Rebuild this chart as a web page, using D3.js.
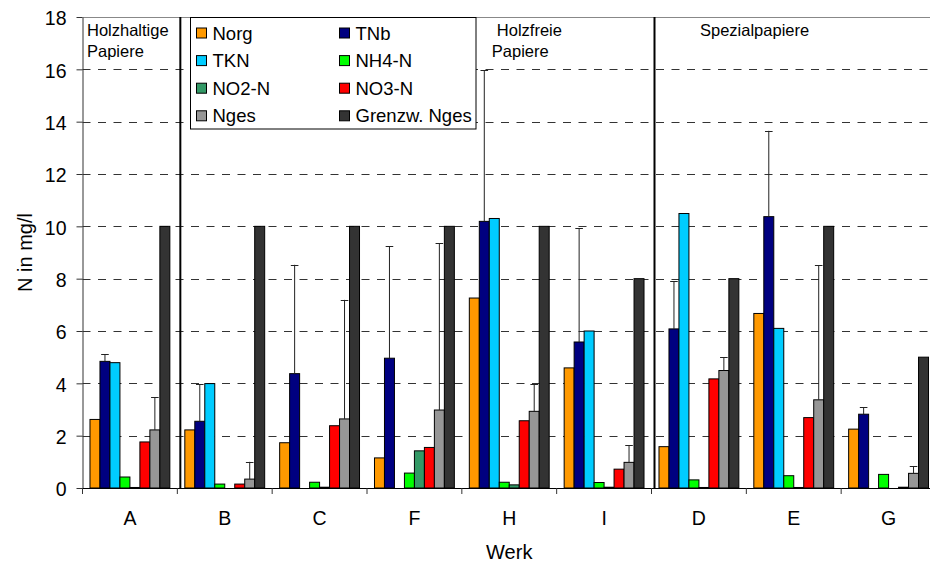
<!DOCTYPE html>
<html>
<head>
<meta charset="utf-8">
<script src="https://cdn.jsdelivr.net/npm/d3@7"></script>
<style>
  html, body { margin: 0; padding: 0; background: #fff; }
  svg { display: block; font-family: "Liberation Sans", Arial, sans-serif; }
</style>
</head>
<body>
<svg id="chart" width="930" height="562"></svg>
<script>
// Werke (plants) along the x axis
const categories = ["A", "B", "C", "F", "H", "I", "D", "E", "G"];

// Nitrogen fractions, one value per Werk, in mg/l
const seriesNames = ["Norg", "TNb", "TKN", "NH4-N", "NO2-N", "NO3-N", "Nges", "Grenzw. Nges"];
const norg   = [2.62, 2.22, 1.73, 1.15, 7.26, 4.59, 1.58, 6.67, 2.25];
const tnb    = [4.84, 2.55, 4.37, 4.96, 10.19, 5.58, 6.08, 10.37, 2.82];
const tkn    = [4.79, 3.99, 0, 0, 10.3, 6.0, 10.49, 6.1, 0];
const nh4    = [0.42, 0.15, 0.22, 0.57, 0.22, 0.21, 0.31, 0.47, 0.52];
const no2    = [0.02, 0, 0.03, 1.42, 0.12, 0.03, 0.02, 0.02, 0];
const no3    = [1.76, 0.15, 2.38, 1.55, 2.57, 0.72, 4.17, 2.69, 0.03];
const nges   = [2.22, 0.34, 2.64, 2.98, 2.93, 0.98, 4.49, 3.37, 0.56];
const grenzw = [10, 10, 10, 10, 10, 8, 8, 10, 5];

// Upper standard deviations for TNb and Nges
const tnbErr  = [0.28, 1.41, 4.16, 4.27, 5.78, 4.35, 1.83, 3.28, 0.27];
const ngesErr = [1.25, 0.66, 4.55, 6.38, 1.03, 0.66, 0.51, 5.15, 0.28];

const yTicks = [0, 2, 4, 6, 8, 10, 12, 14, 16, 18];

// Paper type groups: first Werk of each group and its heading lines
const groupStarts = ["A", "H", "D"];
const groupTitles = [["Holzhaltige", "Papiere"], ["Holzfreie", "Papiere"], ["Spezialpapiere"]];
const separatorsBefore = ["B", "D"];

const seriesValues = [norg, tnb, tkn, nh4, no2, no3, nges, grenzw];
const seriesErrors = { "TNb": tnbErr, "Nges": ngesErr };
const colors = ["#FF9900", "#000080", "#00CCFF", "#00FF00", "#339966", "#FF0000", "#969696", "#333333"];

const svg = d3.select("#chart");
const plotLeft = 82.5, plotRight = 936, plotTop = 17, plotBottom = 488;

const x0 = d3.scaleBand().domain(categories).range([plotLeft, plotRight]).paddingInner(0).paddingOuter(0);
const x1 = d3.scaleBand().domain(seriesNames).range([0, x0.bandwidth()]).paddingInner(0).paddingOuter(0.75);
const y = d3.scaleLinear().domain([0, 18]).range([plotBottom, plotTop]);
const color = d3.scaleOrdinal().domain(seriesNames).range(colors);

// dashed grid lines
svg.append("g")
  .selectAll("line")
  .data(yTicks.filter(t => t > 0 && t < 18))
  .join("line")
  .attr("x1", plotLeft).attr("x2", plotRight)
  .attr("y1", d => Math.round(y(d)) + 0.5).attr("y2", d => Math.round(y(d)) + 0.5)
  .attr("stroke", "#333")
  .attr("stroke-width", 1)
  .attr("stroke-dasharray", "8,7.5");

// top border of the plot area
svg.append("line")
  .attr("x1", plotLeft).attr("x2", plotRight)
  .attr("y1", y(18) + 0.5).attr("y2", y(18) + 0.5)
  .attr("stroke", "#888").attr("stroke-width", 1);

// bars
const rows = [];
categories.forEach((c, i) => {
  seriesNames.forEach((s, j) => {
    rows.push({ cat: c, series: s, value: seriesValues[j][i], err: seriesErrors[s] ? seriesErrors[s][i] : null });
  });
});

svg.append("g")
  .selectAll("rect")
  .data(rows.filter(d => d.value > 0))
  .join("rect")
  .attr("x", d => x0(d.cat) + x1(d.series))
  .attr("y", d => y(d.value))
  .attr("width", x1.bandwidth())
  .attr("height", d => y(0) - y(d.value))
  .attr("fill", d => color(d.series))
  .attr("stroke", "#000")
  .attr("stroke-width", 1);

// upward error bars
const errRows = rows.filter(d => d.err != null);
const eg = svg.append("g").attr("stroke", "#222").attr("stroke-width", 1);
eg.selectAll("line.v")
  .data(errRows)
  .join("line")
  .attr("class", "v")
  .attr("x1", d => x0(d.cat) + x1(d.series) + x1.bandwidth() / 2)
  .attr("x2", d => x0(d.cat) + x1(d.series) + x1.bandwidth() / 2)
  .attr("y1", d => y(d.value))
  .attr("y2", d => y(d.value + d.err));
eg.selectAll("line.c")
  .data(errRows)
  .join("line")
  .attr("class", "c")
  .attr("x1", d => x0(d.cat) + x1(d.series) + x1.bandwidth() / 2 - 3.8)
  .attr("x2", d => x0(d.cat) + x1(d.series) + x1.bandwidth() / 2 + 3.8)
  .attr("y1", d => Math.round(y(d.value + d.err)) + 0.5)
  .attr("y2", d => Math.round(y(d.value + d.err)) + 0.5);

// group separators
svg.append("g")
  .selectAll("line")
  .data(separatorsBefore)
  .join("line")
  .attr("x1", d => x0(d) + 3).attr("x2", d => x0(d) + 3)
  .attr("y1", plotTop).attr("y2", plotBottom)
  .attr("stroke", "#000").attr("stroke-width", 2);

// y axis
const yAxis = svg.append("g")
  .attr("transform", `translate(${plotLeft},0)`)
  .call(d3.axisLeft(y).tickValues(yTicks).tickSize(6).tickSizeOuter(0).tickPadding(10));
yAxis.select(".domain").attr("stroke", "#333");
yAxis.selectAll(".tick line").attr("stroke", "#333");
yAxis.selectAll("text").attr("font-size", "19.5px").attr("fill", "#000").attr("dy", "0.4em")
  .attr("font-family", "Liberation Sans, Arial, sans-serif");

// x axis: category labels centred, tick marks on group boundaries
const xAxis = svg.append("g")
  .attr("transform", `translate(0,${plotBottom})`)
  .call(d3.axisBottom(x0).tickSize(0).tickSizeOuter(0).tickPadding(23));
xAxis.select(".domain").remove();
xAxis.selectAll("text").attr("font-size", "19.5px").attr("fill", "#000")
  .attr("font-family", "Liberation Sans, Arial, sans-serif");

svg.append("line")
  .attr("x1", plotLeft).attr("x2", plotRight)
  .attr("y1", plotBottom + 0.5).attr("y2", plotBottom + 0.5)
  .attr("stroke", "#000").attr("stroke-width", 1);

svg.append("g")
  .selectAll("line")
  .data(categories)
  .join("line")
  .attr("x1", d => x0(d)).attr("x2", d => x0(d))
  .attr("y1", plotBottom).attr("y2", plotBottom + 6)
  .attr("stroke", "#333").attr("stroke-width", 1);

// axis titles
svg.append("text")
  .attr("x", (plotLeft + plotRight) / 2)
  .attr("y", 559)
  .attr("text-anchor", "middle")
  .attr("font-size", "20px")
  .text("Werk");

svg.append("text")
  .attr("transform", `translate(32,${(plotTop + plotBottom) / 2}) rotate(-90)`)
  .attr("text-anchor", "middle")
  .attr("font-size", "20px")
  .text("N in mg/l");

// group headings (per-line left offsets within the first Werk of each group)
const headingOffsets = [[4.5, 4.5], [35, 30], [48.5]];
groupStarts.forEach((g, i) => {
  const t = svg.append("text")
    .attr("y", 36)
    .attr("font-size", "16.5px");
  groupTitles[i].forEach((line, k) => {
    t.append("tspan")
      .attr("x", x0(g) + headingOffsets[i][k])
      .attr("dy", k === 0 ? 0 : 20.5)
      .text(line);
  });
});

// legend
const legend = svg.append("g");
legend.append("rect")
  .attr("x", 190.5).attr("y", 17.5)
  .attr("width", 285.5).attr("height", 111.5)
  .attr("fill", "#fff").attr("stroke", "#000").attr("stroke-width", 1);

const legendItems = legend.selectAll("g.item")
  .data(seriesNames)
  .join("g")
  .attr("class", "item")
  .attr("transform", (d, i) => `translate(${i % 2 === 0 ? 196 : 339},${33 + Math.floor(i / 2) * 27.6})`);
legendItems.append("rect")
  .attr("x", 0.5).attr("y", -5)
  .attr("width", 10).attr("height", 10)
  .attr("fill", d => color(d))
  .attr("stroke", "#000").attr("stroke-width", 1);
legendItems.append("text")
  .attr("x", 16.5)
  .attr("dy", "0.36em")
  .attr("font-size", "18.5px")
  .text(d => d);
</script>
</body>
</html>
